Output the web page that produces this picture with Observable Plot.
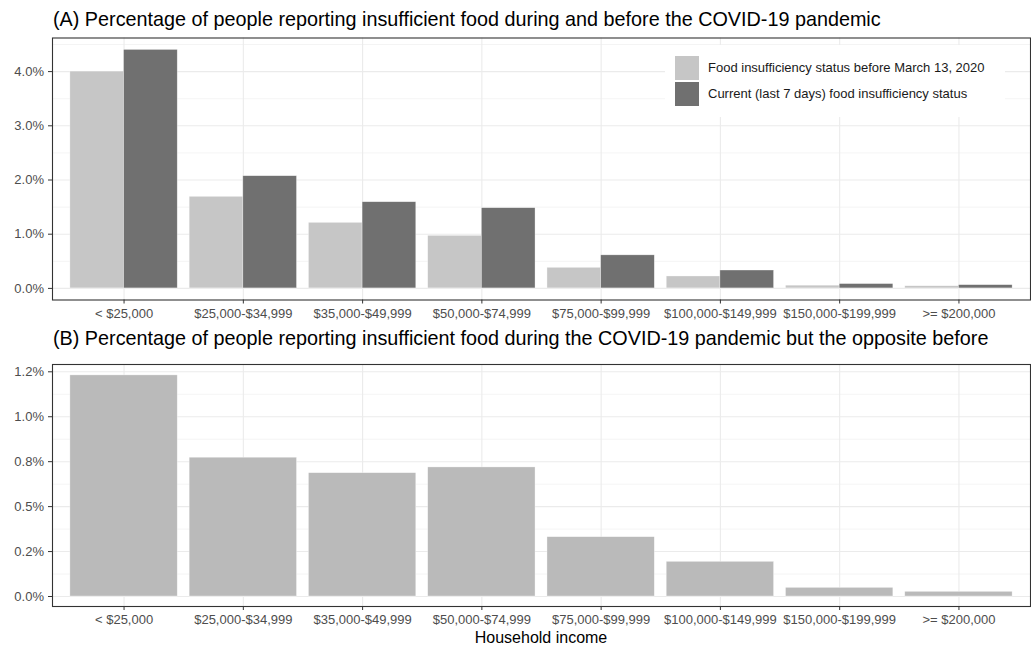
<!DOCTYPE html>
<html>
<head>
<meta charset="utf-8">
<script src="https://cdn.jsdelivr.net/npm/d3@7"></script>
<script src="https://cdn.jsdelivr.net/npm/@observablehq/plot@0.6"></script>
<style>
  body { margin: 0; background: #fff; font-family: "Liberation Sans", Arial, sans-serif; }
  #chart { position: relative; width: 1031px; height: 646px; overflow: hidden; background: #fff; }
  #chart svg { position: absolute; left: 0; }
  .title { position: absolute; left: 53px; font-size: 19.8px; line-height: 1; color: #000; white-space: nowrap; }
  .axis-title { position: absolute; left: 52px; width: 978px; text-align: center; font-size: 16px; line-height: 1; color: #000; }
  .legend { position: absolute; left: 665px; top: 44.5px; width: 340px; height: 72px; background: #fff; }
  .legend .key { position: absolute; left: 10px; width: 24px; height: 24px; }
  .legend .lab { position: absolute; left: 43px; font-size: 13px; line-height: 24px; color: #1a1a1a; white-space: nowrap; }
</style>
</head>
<body>
<div id="chart"></div>
<script>
// Household income brackets (x axis categories)
const incomes = ["< $25,000", "$25,000-$34,999", "$35,000-$49,999", "$50,000-$74,999",
                 "$75,000-$99,999", "$100,000-$149,999", "$150,000-$199,999", ">= $200,000"];

// Series of panel A
const statuses = ["Food insufficiency status before March 13, 2020",
                  "Current (last 7 days) food insufficiency status"];

// Percent of people reporting insufficient food, by income bracket
const beforePct  = [4.00, 1.69, 1.21, 0.97, 0.38, 0.22, 0.05, 0.04];
const currentPct = [4.40, 2.07, 1.59, 1.48, 0.61, 0.33, 0.08, 0.06];
// Percent insufficient now but not before the pandemic
const newlyPct   = [1.23, 0.772, 0.686, 0.718, 0.33, 0.193, 0.048, 0.026];

// Axis ticks and labels
const yTicksA  = [0, 0.01, 0.02, 0.03, 0.04];
const yLabelsA = ["0.0%", "1.0%", "2.0%", "3.0%", "4.0%"];
const yMinorA  = [0.005, 0.015, 0.025, 0.035, 0.045];
const yTicksB  = [0, 0.0025, 0.005, 0.0075, 0.01, 0.0125];
const yLabelsB = ["0.0%", "0.2%", "0.5%", "0.8%", "1.0%", "1.2%"];
const yMinorB  = [0.00125, 0.00375, 0.00625, 0.00875, 0.01125];

const dataA = incomes.flatMap((income, i) => [
  {income, status: statuses[0], value: beforePct[i] / 100},
  {income, status: statuses[1], value: currentPct[i] / 100}
]);
const dataB = incomes.map((income, i) => ({income, value: newlyPct[i] / 100}));

const W = 1031;
const font = {fontFamily: "'Liberation Sans', Arial, sans-serif", fontSize: "13px", color: "#4D4D4D", background: "transparent", overflow: "visible"};
const band = {domain: incomes, paddingInner: 0.1, paddingOuter: 0.15, round: false};
const gridMinor = {stroke: "#EBEBEB", strokeOpacity: 1, strokeWidth: 0.55};
const gridMajor = {stroke: "#EBEBEB", strokeOpacity: 1, strokeWidth: 1.1};
const barEdge = {stroke: "#ffffff", strokeOpacity: 0.55, strokeWidth: 0.6};

// Panel A layout
const layoutA = {width: W, height: 330, marginTop: 37.5, marginBottom: 30.5, marginLeft: 52, marginRight: 1};
const yDomainA = [-0.00214, 0.0462];

// Panel A: panel background, grid, axes and border
const backA = Plot.plot({
  ...layoutA,
  style: font,
  x: {type: "band", ...band, label: null},
  y: {domain: yDomainA, label: null},
  marks: [
    Plot.gridY(yMinorA, gridMinor),
    Plot.gridY(yTicksA, gridMajor),
    Plot.gridX(incomes, gridMajor),
    Plot.frame({stroke: "#333333", strokeWidth: 1.1}),
    Plot.axisX({tickSize: 4, tickPadding: 4.4, stroke: "#333333", fill: "#4D4D4D", label: null}),
    Plot.axisY(yTicksA, {tickSize: 4, tickPadding: 4.5, stroke: "#333333", fill: "#4D4D4D", label: null,
                         tickFormat: d => yLabelsA[yTicksA.indexOf(d)]})
  ]
});

// Panel A: dodged bars, one facet per income bracket
const barsA = Plot.plot({
  ...layoutA,
  style: {background: "transparent", overflow: "visible"},
  fx: {...band, axis: null, label: null},
  x: {domain: statuses, padding: 0, round: false, axis: null},
  y: {domain: yDomainA, axis: null},
  color: {domain: statuses, range: ["#C6C6C6", "#707070"]},
  marks: [
    Plot.barY(dataA, {fx: "income", x: "status", y: "value", fill: "status", ...barEdge})
  ]
});

// Panel B: single series
const plotB = Plot.plot({
  width: W, height: 316, marginTop: 34, marginBottom: 40, marginLeft: 52, marginRight: 1,
  style: font,
  x: {type: "band", ...band, label: null},
  y: {domain: [-0.000556, 0.012906], label: null},
  marks: [
    Plot.gridY(yMinorB, gridMinor),
    Plot.gridY(yTicksB, gridMajor),
    Plot.gridX(incomes, gridMajor),
    Plot.barY(dataB, {x: "income", y: "value", fill: "#BABABA", ...barEdge}),
    Plot.frame({stroke: "#333333", strokeWidth: 1.1}),
    Plot.axisX({tickSize: 4, tickPadding: 4.4, stroke: "#333333", fill: "#4D4D4D", label: null}),
    Plot.axisY(yTicksB, {tickSize: 4, tickPadding: 4.5, stroke: "#333333", fill: "#4D4D4D", label: null,
                         tickFormat: d => yLabelsB[yTicksB.indexOf(d)]})
  ]
});

const chart = document.getElementById("chart");
backA.style.top = "0px";
barsA.style.top = "0px";
plotB.style.top = "330px";
chart.append(backA, barsA, plotB);

// Titles
const titleA = document.createElement("div");
titleA.className = "title";
titleA.style.top = "9.5px";
titleA.textContent = "(A) Percentage of people reporting insufficient food during and before the COVID-19 pandemic";
const titleB = document.createElement("div");
titleB.className = "title";
titleB.style.top = "329.2px";
titleB.textContent = "(B) Percentage of people reporting insufficient food during the COVID-19 pandemic but the opposite before";
const xTitle = document.createElement("div");
xTitle.className = "axis-title";
xTitle.style.top = "629.5px";
xTitle.textContent = "Household income";
chart.append(titleA, titleB, xTitle);

// Legend for panel A, built from the bar colour scale
const colorScale = barsA.scale("color");
const legend = document.createElement("div");
legend.className = "legend";
colorScale.domain.forEach((name, i) => {
  const key = document.createElement("div");
  key.className = "key";
  key.style.top = (11.2 + i * 26) + "px";
  key.style.background = colorScale.range[i];
  const lab = document.createElement("div");
  lab.className = "lab";
  lab.style.top = (11.2 + i * 26) + "px";
  lab.textContent = name;
  legend.append(key, lab);
});
chart.append(legend);
</script>
</body>
</html>
